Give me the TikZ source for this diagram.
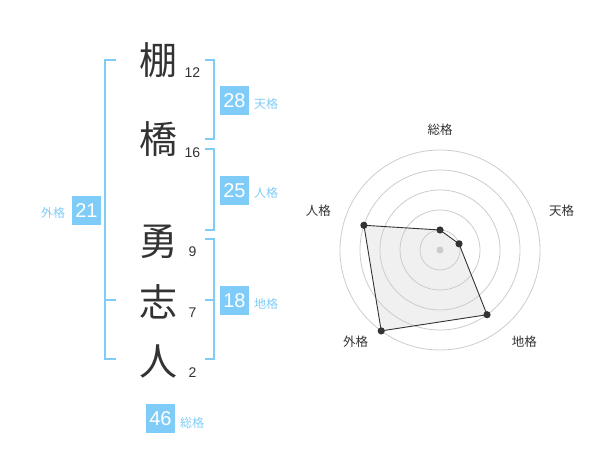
\documentclass[tikz,border=0pt]{standalone}
\usepackage{fontspec}
\setmainfont{Liberation Sans}
\newfontfamily\jp{Noto Sans CJK JP}
\definecolor{kakublue}{HTML}{80CCF8}
\definecolor{sumi}{HTML}{333333}
\definecolor{grid}{HTML}{CCCCCC}
\tikzset{
  moji/.style={text=sumi,font=\jp\fontsize{38}{38}\selectfont,inner sep=0pt},
  kakusu/.style={text=sumi,font=\fontsize{14}{14}\selectfont,inner sep=0pt},
  kakubox/.style={fill=kakublue,text=white,font=\fontsize{20}{20}\selectfont,minimum size=29pt,inner sep=0pt},
  kakuname/.style={text=kakublue,font=\jp\fontsize{12}{12}\selectfont,inner sep=0pt},
  kakko/.style={kakublue,line width=2pt},
  radarname/.style={text=sumi,font=\jp\fontsize{12.5}{12.5}\selectfont,inner sep=0pt}
}
\begin{document}
\begin{tikzpicture}[x=1pt,y=-1pt]
	\useasboundingbox (0,0) rectangle (600,470);
	% name and strokes
	\node[moji] (tana) at (158,60) {棚};
	\node[moji] (hashi) at (158,139) {橋};
	\node[moji] (isamu) at (158,242) {勇};
	\node[moji] (kokoro) at (158,302) {志};
	\node[moji] (hito) at (158,361) {人};
	\node[kakusu] (s1) at (192.5,73) {12};
	\node[kakusu] (s2) at (192.5,153) {16};
	\node[kakusu] (s3) at (192.5,252) {9};
	\node[kakusu] (s4) at (192.5,313) {7};
	\node[kakusu] (s5) at (192.5,373) {2};
	% brackets
	\draw[kakko] (116,60) -- (105,60) -- (105,359) -- (116,359);
	\draw[kakko] (105,300) -- (116,300);
	\draw[kakko] (205,60) -- (214,60) -- (214,139) -- (205,139);
	\draw[kakko] (205,149) -- (214,149) -- (214,230) -- (205,230);
	\draw[kakko] (205,239) -- (214,239) -- (214,359) -- (205,359);
	\draw[kakko] (205,300) -- (214,300);
	% kaku
	\node[kakubox] (ten) at (234.5,100.5) {28};
	\node[kakuname] (tenname) at (266,104) {天格};
	\node[kakubox] (jin) at (234.5,190.5) {25};
	\node[kakuname] (jinname) at (266,193) {人格};
	\node[kakubox] (chi) at (234.5,300.5) {18};
	\node[kakuname] (chiname) at (266,304) {地格};
	\node[kakubox] (gai) at (86.5,210.5) {21};
	\node[kakuname] (gainame) at (53,213) {外格};
	\node[kakubox] (so) at (160.5,418.5) {46};
	\node[kakuname] (soname) at (192,423) {総格};
	% radar
	\begin{scope}[shift={(440,250)},y=1pt]
		\coordinate (rso) at (90:20);
		\coordinate (rten) at (18:20);
		\coordinate (rchi) at (-54:80);
		\coordinate (rgai) at (-126:100);
		\coordinate (rjin) at (162:80);
		\fill[black!6] (rso) -- (rten) -- (rchi) -- (rgai) -- (rjin) -- cycle;
		\foreach \r in {20,40,...,100}
			\draw[grid,line width=0.8pt] (0,0) circle (\r);
		\fill[grid] (0,0) circle (3.5);
		\draw[sumi,line width=0.9pt] (rso) -- (rten) -- (rchi) -- (rgai) -- (rjin) -- cycle;
		\foreach \p in {rso,rten,rchi,rgai,rjin}
			\fill[sumi] (\p) circle (3.6);
		\node[radarname] (lso) at (90:120) {総格};
		\node[radarname] (lten) at (18:128) {天格};
		\node[radarname] (ljin) at (162:128) {人格};
		\node[radarname] (lchi) at (-47.5:125) {地格};
		\node[radarname] (lgai) at (-132.5:125) {外格};
	\end{scope}
\end{tikzpicture}
\end{document}
